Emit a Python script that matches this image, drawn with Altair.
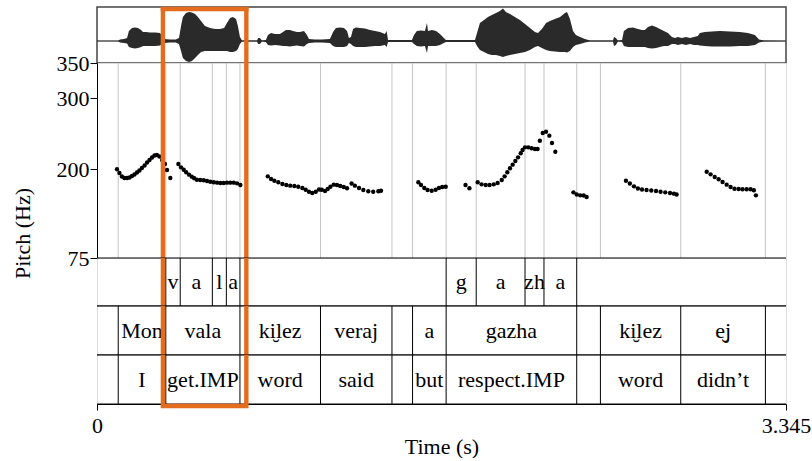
import altair as alt
import pandas as pd

FONT = "Liberation Serif"
ORANGE = "#E36C1D"
T_END = 3.345

# ---------------- pitch track (s, Hz) ----------------
pitch_t = [
    0.097, 0.109, 0.121, 0.133, 0.146, 0.158, 0.170, 0.182, 0.194, 0.206,
    0.218, 0.231, 0.243, 0.255, 0.267, 0.279, 0.291, 0.303, 0.316, 0.330,
    0.340, 0.356,
    0.395, 0.408, 0.421, 0.433, 0.447, 0.460, 0.472, 0.485, 0.501, 0.518,
    0.534, 0.550, 0.567, 0.583, 0.599, 0.615, 0.631, 0.647, 0.664, 0.680,
    0.696,
    0.829, 0.845, 0.861, 0.880, 0.900, 0.919, 0.938, 0.958, 0.977, 0.997,
    1.013, 1.029, 1.045, 1.062, 1.078, 1.091, 1.107, 1.120, 1.133, 1.149,
    1.165, 1.181, 1.198, 1.214, 1.236, 1.252, 1.272, 1.293, 1.317, 1.341,
    1.366, 1.379,
    1.560, 1.573, 1.589, 1.605, 1.625, 1.644, 1.660, 1.676, 1.693,
    1.789, 1.808,
    1.848, 1.867, 1.887, 1.906, 1.926, 1.945, 1.965, 1.979, 1.992, 2.005,
    2.018, 2.031, 2.044, 2.057, 2.066, 2.078, 2.094, 2.110, 2.126, 2.139,
    2.150, 2.164, 2.180, 2.196, 2.209, 2.225,
    2.313, 2.329, 2.346, 2.363, 2.377,
    2.568, 2.587, 2.607, 2.626, 2.646, 2.668, 2.691, 2.714, 2.736, 2.759,
    2.782, 2.801, 2.814,
    2.960, 2.979, 2.999, 3.018, 3.037, 3.057, 3.076, 3.095, 3.115, 3.134,
    3.154, 3.173, 3.189, 3.199,
]
pitch_hz = [
    200.1, 194.9, 189.9, 187.8, 187.8, 188.5, 190.6, 192.8, 195.6, 198.4,
    201.9, 205.4, 209.7, 213.2, 216.7, 219.5, 220.3, 218.1, 213.2, 207.6,
    199.1, 187.8,
    207.6, 202.9, 199.5, 195.9, 192.5, 189.7, 187.4, 185.4, 185.0, 184.6,
    183.6, 182.6, 181.8, 181.2, 180.8, 180.8, 181.2, 181.2, 181.2, 180.3,
    177.9,
    190.2, 186.4, 184.0, 181.8, 179.4, 177.9, 177.0, 176.5, 175.5, 173.7,
    171.3, 168.5, 166.7, 168.5, 171.6, 171.3, 169.5, 172.3, 175.5, 178.4,
    177.9, 176.5, 175.1, 173.3, 180.1, 177.0, 173.7, 170.9, 169.1, 168.5,
    169.1, 169.9,
    181.8, 177.9, 173.7, 170.9, 169.9, 171.3, 173.7, 175.1, 175.5,
    177.9, 173.3,
    181.8, 178.9, 177.9, 177.9, 178.9, 180.8, 185.0, 190.2, 195.9, 201.5,
    206.6, 211.8, 217.0, 222.7, 227.3, 231.1, 231.1, 229.7, 228.7, 228.7,
    240.4, 251.3, 253.1, 247.5, 237.2, 224.9,
    167.6, 164.5, 163.4, 163.1, 161.0,
    184.0, 180.0, 176.1, 173.0, 171.6, 170.9, 170.2, 169.5, 168.5, 167.6,
    166.7, 165.7, 164.5,
    196.7, 193.0, 189.2, 186.0, 182.2, 178.4, 175.1, 172.7, 172.3, 171.9,
    171.9, 171.9, 170.5, 163.4,
]

# ---------------- waveform envelope (s, relative amplitude) ----------------
wave_t = [
    0.000, 0.102, 0.112, 0.131, 0.146, 0.155, 0.170, 0.184, 0.199, 0.214,
    0.223, 0.238, 0.257, 0.282, 0.306, 0.316, 0.325, 0.354, 0.383, 0.398,
    0.408, 0.417, 0.432, 0.447, 0.461, 0.476, 0.490, 0.505, 0.524, 0.549,
    0.573, 0.597, 0.617, 0.631, 0.646, 0.660, 0.675, 0.684, 0.694, 0.704,
    0.777, 0.782, 0.791, 0.801, 0.820, 0.830, 0.845, 0.864, 0.888, 0.903,
    0.917, 0.937, 0.951, 0.971, 0.985, 1.005, 1.019, 1.029, 1.058, 1.092,
    1.131, 1.146, 1.160, 1.180, 1.199, 1.214, 1.223, 1.233, 1.243, 1.257,
    1.277, 1.301, 1.325, 1.350, 1.374, 1.398, 1.406, 1.413, 1.529, 1.539,
    1.553, 1.573, 1.592, 1.602, 1.607, 1.626, 1.646, 1.665, 1.684, 1.694,
    1.835, 1.845, 1.859, 1.879, 1.898, 1.917, 1.937, 1.956, 1.971, 1.985,
    2.005, 2.029, 2.053, 2.078, 2.102, 2.126, 2.141, 2.160, 2.180, 2.199,
    2.223, 2.248, 2.272, 2.282, 2.296, 2.311, 2.325, 2.345, 2.369, 2.393,
    2.505, 2.510, 2.519, 2.529, 2.549, 2.558, 2.578, 2.602, 2.626, 2.646,
    2.660, 2.675, 2.694, 2.714, 2.733, 2.752, 2.772, 2.791, 2.806, 2.820,
    2.840, 2.859, 2.879, 2.898, 2.917, 2.927, 2.951, 2.985, 3.024, 3.073,
    3.121, 3.160, 3.194, 3.214, 3.238, 3.345,
]
wave_hi = [
    0.3, 0.3, 1.5, 2, 3, 10, 13, 13.5, 13, 11,
    9, 9, 8.5, 8.5, 8, 5, 2, 1.5, 1.5, 3,
    15, 24, 28, 29, 28.5, 27, 24, 20, 15, 13,
    12, 12, 13, 18, 23, 24, 22, 15, 4, 0.5,
    0.5, 3, 3, 0.5, 1, 6, 8, 7, 7, 9,
    11, 11, 10, 9, 9, 10, 6, 2, 1.5, 1.5,
    2, 9, 13, 13.5, 13, 10, 3, 4, 12, 13.5,
    13, 12.5, 11, 10, 9, 7, 10, 1, 1, 6,
    10, 10.5, 10, 18, 10, 11, 10, 7, 3, 1,
    1, 8, 18, 21, 24, 26, 28, 30, 32.5, 29,
    27, 24, 21, 17, 13, 9, 8, 12, 18, 20,
    22, 24, 28, 29, 22, 10, 6, 4, 2, 0.5,
    0.5, 4, 3, 0.5, 1, 10, 13, 13.5, 12, 11,
    11, 14, 15.5, 14, 12, 10, 8, 4, 3, 4,
    3, 4, 3, 4, 5, 8, 9, 9.5, 10, 9.5,
    9, 8, 6, 1.5, 0.5, 0.3,
]
wave_lo = [
    -0.3, -0.3, -1.5, -2, -2.5, -6, -7, -7.5, -7, -6,
    -5, -5, -5, -5, -4.5, -3, -2, -1.5, -1.5, -3,
    -10, -17, -20, -21, -20, -17, -14, -11, -10, -10,
    -10, -10, -10, -10, -11, -11, -10, -8, -3, -0.5,
    -0.5, -3, -3, -0.5, -1, -4, -4.5, -4, -4.5, -5,
    -5, -5.5, -5, -4.5, -5, -5.5, -3, -2, -1.5, -1.5,
    -2, -5, -6, -6, -6, -5, -2, -3, -5, -6,
    -6, -6, -5.5, -5, -5, -4, -6, -1, -1, -3,
    -5, -5.5, -5, -12, -5, -5, -5, -4, -2, -1,
    -1, -5, -9, -11, -13, -14, -14, -15, -16, -15,
    -14, -13, -12, -11, -9, -6, -5, -7, -9, -10,
    -10.5, -11, -11, -11.5, -10, -6, -4, -3, -1.5, -0.5,
    -0.5, -5, -4, -0.5, -1, -5, -6, -6, -6, -6,
    -6, -7, -7.5, -7, -6, -5, -5, -3, -3, -4,
    -3, -4, -3, -4, -4, -4.5, -5, -5.5, -5.5, -5.5,
    -5, -5, -4, -1.5, -0.5, -0.3,
]

# ---------------- TextGrid tiers ----------------
phone_start = [0.334, 0.404, 0.560, 0.628, 1.695, 1.841, 2.078, 2.170]
phone_end = [0.404, 0.560, 0.628, 0.694, 1.841, 2.078, 2.170, 2.329]
phone_label = ["v", "a", "l", "a", "g", "a", "zh", "a"]
phone_bounds = [0.334, 0.404, 0.560, 0.628, 0.694, 1.695, 1.841, 2.078, 2.170, 2.329]

word_bounds = [0.103, 0.334, 0.694, 1.085, 1.432, 1.532, 1.695, 2.329, 2.444, 2.834, 3.245]
word_label = ["Mon", "vala", "ki\u032elez", "veraj", "", "a", "gazha", "", "ki\u032elez", "e\u032ej"]
gloss_label = ["I", "get.IMP", "word", "said", "", "but", "respect.IMP", "", "word", "didn\u2019t"]

highlight = [0.320, 0.725]  # highlighted word "vala"

AMP_MIN, AMP_MAX = -22, 34

# ---------------- frames ----------------
pitch_df = pd.DataFrame({"t": pitch_t, "hz": pitch_hz})
wave_df = pd.DataFrame({"t": wave_t, "hi": wave_hi, "lo": wave_lo})
grid_df = pd.DataFrame({"t": sorted(set(phone_bounds) | set(word_bounds))})
phone_df = pd.DataFrame({"s": phone_start, "e": phone_end, "label": phone_label})
word_df = pd.DataFrame({"s": word_bounds[:-1], "e": word_bounds[1:], "label": word_label})
gloss_df = pd.DataFrame({"s": word_bounds[:-1], "e": word_bounds[1:], "label": gloss_label})
hl_df = pd.DataFrame({"t": highlight})
hl_bar = pd.DataFrame({"t": [highlight[0]], "t2": [highlight[1]], "a": [AMP_MAX], "r": [0.0]})
edge_df = pd.DataFrame({"r": [0.0, 1.0]})

xscale = alt.Scale(domain=[0, T_END], nice=False, zero=False)
W = 689


def xenc(axis=None, field="t:Q"):
    return alt.X(field, scale=xscale, axis=axis)


def orange_v(axis=None):
    return alt.Chart(hl_df).mark_rule(color=ORANGE, strokeWidth=4.4, strokeCap="butt").encode(x=xenc(axis))


# waveform
amp = alt.Scale(domain=[AMP_MIN, AMP_MAX], nice=False, zero=False)
wave = alt.layer(
    alt.Chart(pd.DataFrame({"a": [0.0]})).mark_rule(color="#333", strokeWidth=1).encode(
        y=alt.Y("a:Q", scale=amp, axis=None)),
    alt.Chart(wave_df).mark_area(color="#2a2a2a", interpolate="linear").encode(
        x=xenc(), y=alt.Y("hi:Q", scale=amp, axis=None), y2="lo:Q"),
    orange_v(),
    alt.Chart(hl_bar).mark_rule(color=ORANGE, strokeWidth=4.4, strokeCap="square", yOffset=2).encode(
        x=xenc(), x2="t2:Q", y=alt.Y("a:Q", scale=amp, axis=None)),
).properties(width=W, height=56,
             view=alt.ViewBackground(stroke="#444", strokeWidth=1.5, fill="transparent"))

# pitch
yaxis = alt.Axis(
    values=[75, 200, 300, 350], tickSize=7, tickColor="black", domainColor="black",
    labelFont=FONT, labelFontSize=22, labelColor="black", labelPadding=1,
    labelFlush=False, labelOverlap=False, labelBound=False, grid=False,
    title="Pitch (Hz)", titleFont=FONT, titleFontSize=22, titleFontWeight="normal",
    titleColor="black", titleAngle=270, titleX=-68, titleY=170,
    titleBaseline="alphabetic", titleAlign="center")
pitch = alt.layer(
    alt.Chart(grid_df).mark_rule(color="#c4c4c4", strokeWidth=1).encode(x=xenc()),
    alt.Chart(pitch_df).mark_circle(size=19, color="black", opacity=1).encode(
        x=xenc(), y=alt.Y("hz:Q", scale=alt.Scale(domain=[75, 350], nice=False, zero=False), axis=yaxis)),
    orange_v(),
).properties(width=W, height=195)

xaxis = alt.Axis(
    values=[0, T_END], format=".4~f", tickSize=6, tickColor="black", domainColor="black",
    labelFont=FONT, labelFontSize=22, labelColor="black", labelBaseline="alphabetic",
    labelPadding=22, labelFlush=False, labelOverlap=False, labelBound=False, grid=False,
    title="Time (s)", titleFont=FONT, titleFontSize=22, titleFontWeight="normal",
    titleColor="black", titleBaseline="alphabetic", titleY=49)

rowscale = alt.Scale(domain=[0, 1], nice=False, zero=False)


def tier(bounds, df, h, axis=None, bottom_bar=False):
    layers = [
        alt.Chart(edge_df).mark_rule(color="black", strokeWidth=1.2).encode(
            y=alt.Y("r:Q", scale=rowscale, axis=None)),
        alt.Chart(pd.DataFrame({"t": bounds})).mark_rule(color="black", strokeWidth=1).encode(x=xenc(axis)),
        alt.Chart(df).transform_calculate(t="(datum.s + datum.e) / 2", r="0.5").mark_text(
            font=FONT, fontSize=22, color="black", baseline="middle", align="center").encode(
            x=xenc(axis), y=alt.Y("r:Q", scale=rowscale, axis=None), text="label:N"),
        orange_v(axis),
    ]
    if bottom_bar:
        layers.append(
            alt.Chart(hl_bar).mark_rule(color=ORANGE, strokeWidth=4.4, strokeCap="square", yOffset=2).encode(
                x=xenc(axis), x2="t2:Q", y=alt.Y("r:Q", scale=rowscale, axis=None)))
    return alt.layer(*layers).properties(width=W, height=h)


phones = tier(phone_bounds, phone_df, 48)
words = tier(word_bounds, word_df, 49)
gloss = tier(word_bounds, gloss_df, 49, axis=xaxis, bottom_bar=True)

chart = alt.vconcat(wave, pitch, phones, words, gloss, spacing=0, bounds="flush").properties(
    padding={"left": 10, "top": 4, "right": 0, "bottom": 0}
).configure_view(stroke="black", strokeWidth=1.3, fill="transparent").configure(background="white")

chart.save("out.html", embed_options={"renderer": "svg", "actions": False})
